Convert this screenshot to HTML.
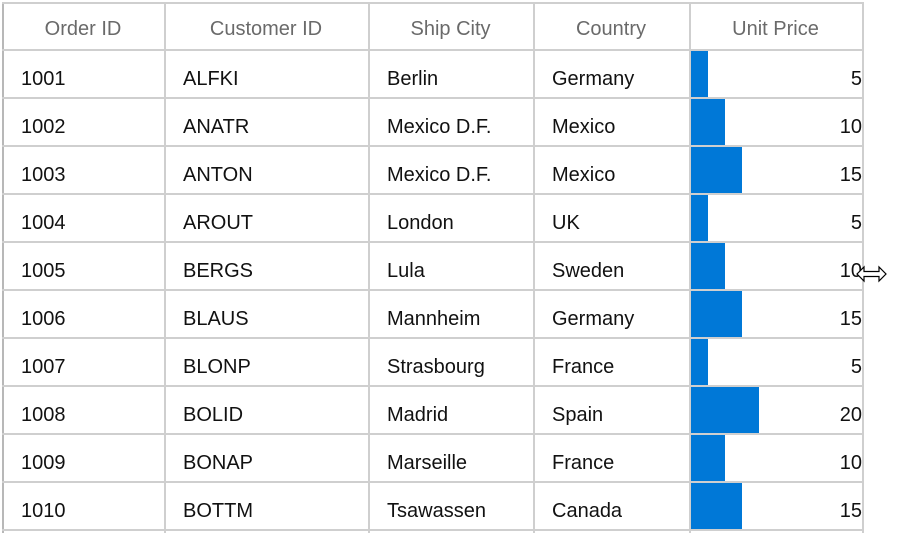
<!DOCTYPE html>
<html><head><meta charset="utf-8">
<style>
html,body{margin:0;padding:0;background:#fff;width:901px;height:533px;overflow:hidden;font-family:"Liberation Sans",sans-serif;}
#grid{position:absolute;left:0;top:0;width:901px;height:533px;}
.c{position:absolute;font-size:20px;color:#111;white-space:nowrap;}
.h{color:#6a6a6a;text-align:center;}
.vl{position:absolute;background:#cfcfcf;width:2px;}
.hl{position:absolute;background:#cfcfcf;height:2px;}
.bar{position:absolute;background:#0078d7;}
</style></head>
<body>
<div id="grid"></div>
<svg style="position:absolute;left:855px;top:264px" width="34" height="20" viewBox="0 0 34 20">
<path d="M2 10 L9 3 L9 7.5 L24 7.5 L24 3 L31 10 L24 17 L24 12.5 L9 12.5 L9 17 Z" fill="#fff" stroke="#000" stroke-width="1.2"/>
</svg>
<script>
const orderIds=[1001,1002,1003,1004,1005,1006,1007,1008,1009,1010];
const customerIds=["ALFKI","ANATR","ANTON","AROUT","BERGS","BLAUS","BLONP","BOLID","BONAP","BOTTM"];
const shipCities=["Berlin","Mexico D.F.","Mexico D.F.","London","Lula","Mannheim","Strasbourg","Madrid","Marseille","Tsawassen"];
const countries=["Germany","Mexico","Mexico","UK","Sweden","Germany","France","Spain","France","Canada"];
const unitPrices=[5,10,15,5,10,15,5,20,10,15];
const headers=["Order ID","Customer ID","Ship City","Country","Unit Price"];

const g=document.getElementById('grid');
const colX=[2,164,368,533,689,862];
const headTop=3, headH=47, rowH=48;
const pxPerUnit=3.4;
function add(cls,style,text){const d=document.createElement('div');d.className=cls;Object.assign(d.style,style);if(text!==undefined)d.textContent=text;g.appendChild(d);return d;}

for(let i=0;i<colX.length;i++){
  const v=add('vl',{left:colX[i]+'px',top:headTop+'px',height:(533-headTop)+'px',background:i===0?'#b8b8b8':'#cfcfcf'});
  
  
}
const top0=add('hl',{left:'2px',top:'2px',width:'862px'});


for(let r=0;r<=orderIds.length;r++){
  const y=headTop+headH+r*rowH-1;
  const h=add('hl',{left:'2px',top:y+'px',width:'862px'});
  
  
}
headers.forEach((t,i)=>{
  const d=add('c h',{left:colX[i]+'px',width:(colX[i+1]-colX[i])+'px',top:(headTop+15)+'px'},t);
  
  
});
for(let r=0;r<orderIds.length;r++){
  const yTop=headTop+headH+r*rowH+1;
  const ty=yTop+17;
  const vals=[orderIds[r],customerIds[r],shipCities[r],countries[r]];
  vals.forEach((v,i)=>{
    const d=add('c',{left:(colX[i]+19)+'px',top:ty+'px'},String(v));
    
    
  });
  const b=add('bar',{left:(colX[4]+2)+'px',top:yTop+'px',width:(unitPrices[r]*pxPerUnit)+'px',height:(rowH-2)+'px'});
  
  
  const p=add('c',{left:colX[4]+'px',width:(colX[5]-colX[4])+'px',textAlign:'right',top:ty+'px'},String(unitPrices[r]));
  
  
}
</script>
</body></html>
